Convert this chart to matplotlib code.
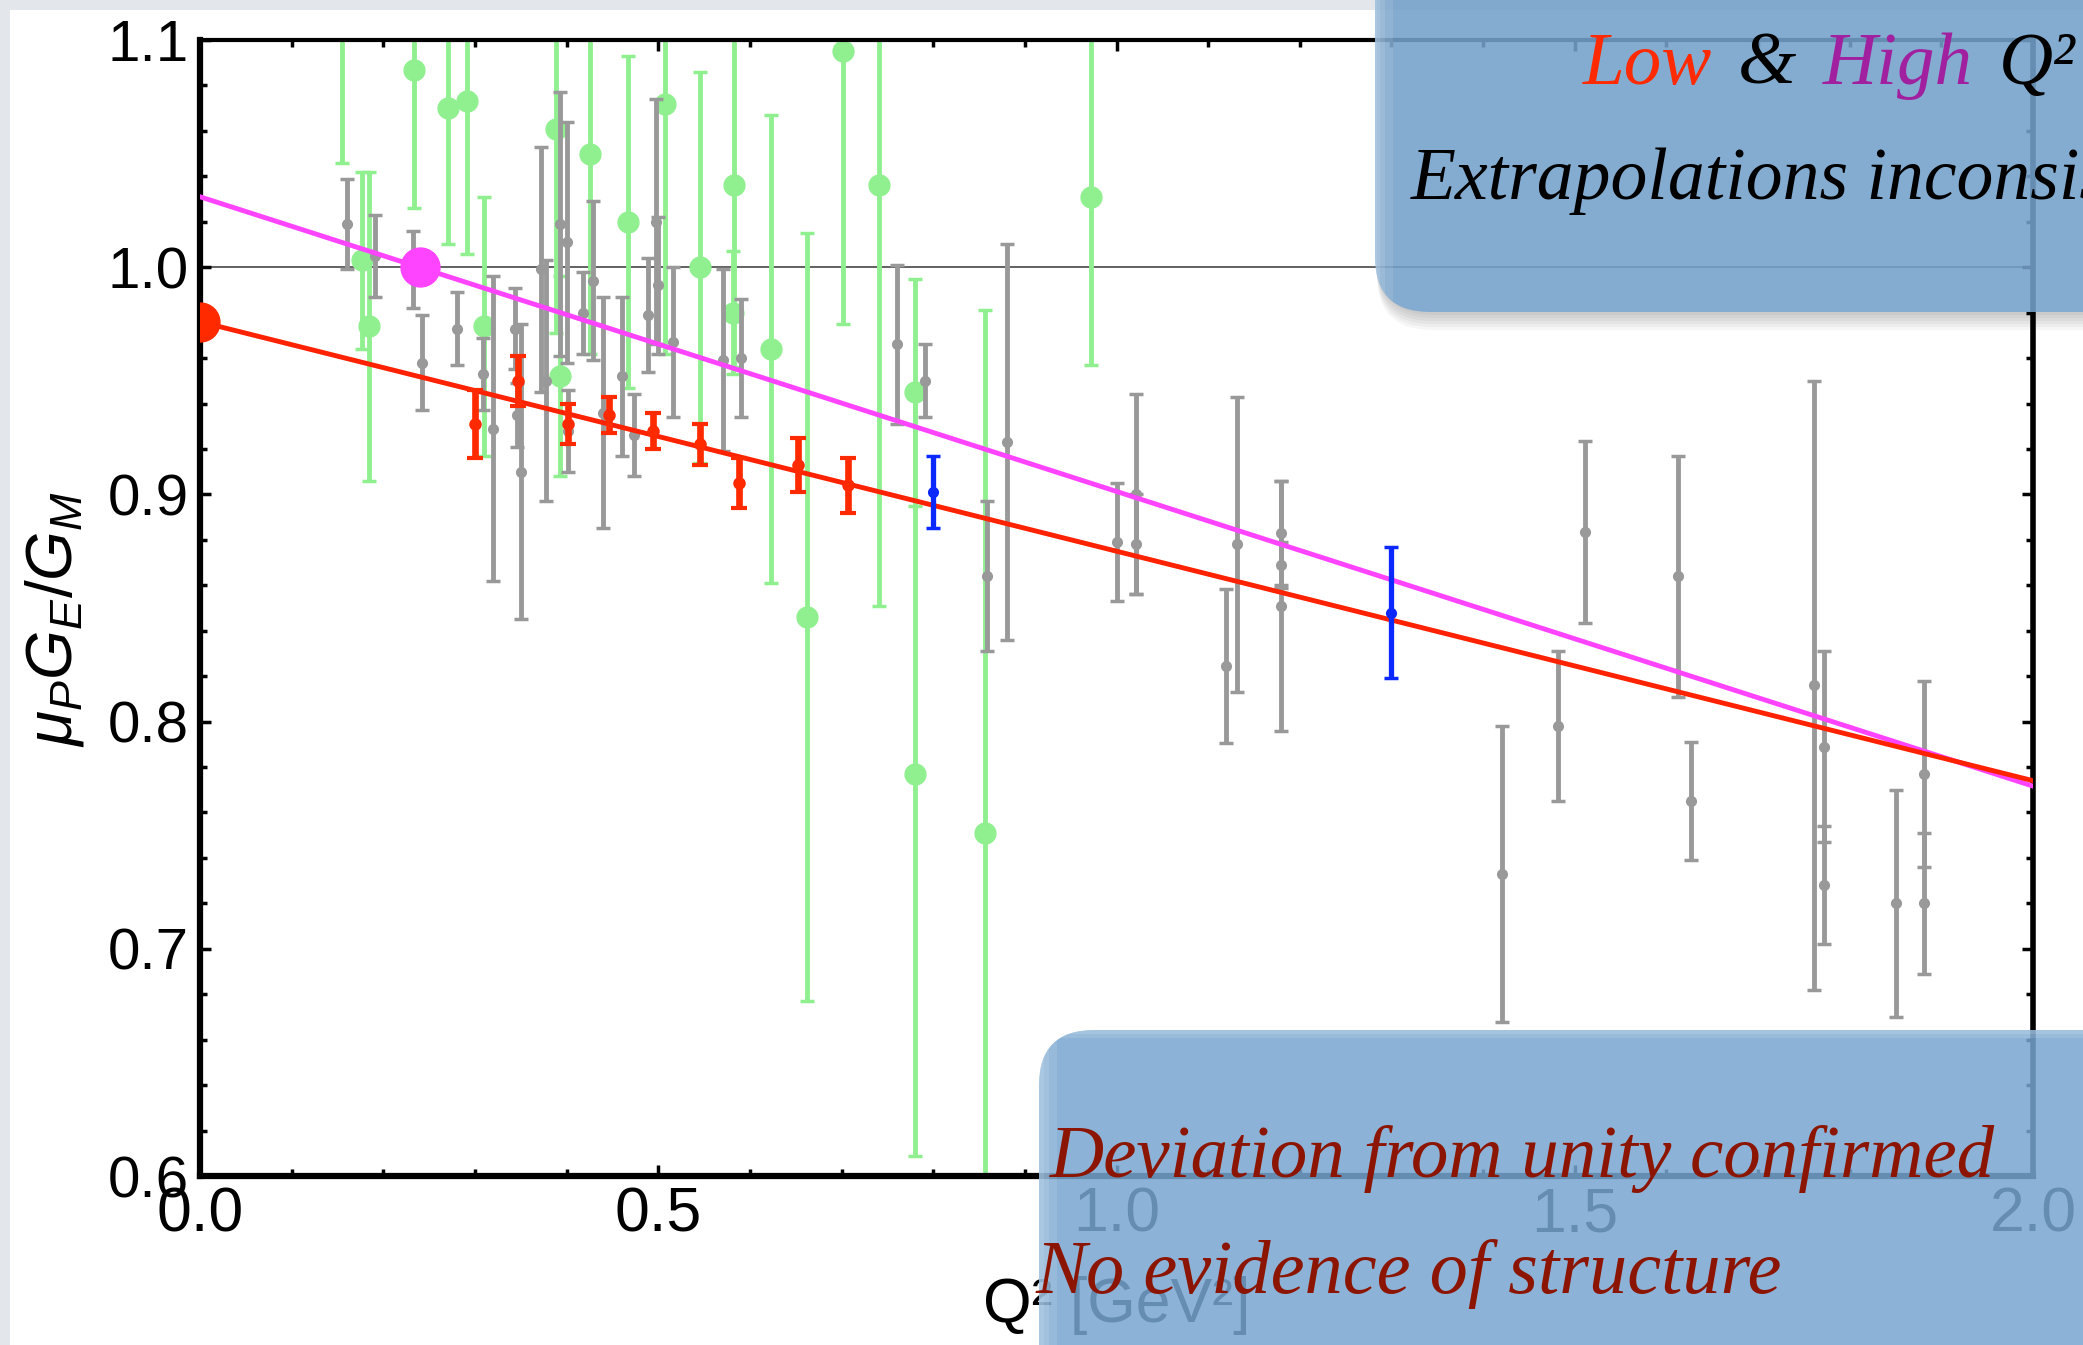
import matplotlib
matplotlib.use('Agg')
import matplotlib.pyplot as plt
import numpy as np
from matplotlib.patches import FancyBboxPatch, Rectangle
from matplotlib.transforms import IdentityTransform
from matplotlib.ticker import MultipleLocator, FormatStrFormatter

plt.rcParams['font.family'] = ['Liberation Sans', 'DejaVu Sans']
plt.rcParams['mathtext.fontset'] = 'custom'
plt.rcParams['mathtext.it'] = 'Liberation Sans:italic'
plt.rcParams['mathtext.rm'] = 'Liberation Sans'

# ---------------- data ----------------
gray_q = [0.160, 0.191, 0.232, 0.242, 0.280, 0.309, 0.320, 0.344, 0.346, 0.350,
          0.372, 0.378, 0.393, 0.400, 0.402, 0.418, 0.429, 0.440, 0.460, 0.4735,
          0.489, 0.498, 0.500, 0.516, 0.5705, 0.590, 0.760, 0.791, 0.859, 0.880,
          1.000, 1.021, 1.021, 1.120, 1.131, 1.180, 1.180, 1.180, 1.421, 1.482,
          1.511, 1.613, 1.627, 1.761, 1.772, 1.772, 1.850, 1.881, 1.881]
gray_r = [1.019, 1.005, 0.999, 0.958, 0.973, 0.953, 0.929, 0.973, 0.935, 0.910,
          0.999, 0.950, 1.019, 1.011, 0.928, 0.980, 0.994, 0.936, 0.952, 0.926,
          0.979, 1.020, 0.992, 0.967, 0.959, 0.960, 0.966, 0.950, 0.864, 0.923,
          0.879, 0.878, 0.900, 0.8245, 0.878, 0.883, 0.869, 0.851, 0.733, 0.798,
          0.8835, 0.864, 0.765, 0.816, 0.789, 0.728, 0.720, 0.777, 0.720]
gray_err = [0.020, 0.018, 0.017, 0.021, 0.016, 0.016, 0.067, 0.018, 0.014, 0.065,
            0.054, 0.053, 0.058, 0.053, 0.018, 0.018, 0.035, 0.051, 0.035, 0.018,
            0.025, 0.054, 0.030, 0.033, 0.040, 0.026, 0.035, 0.016, 0.033, 0.087,
            0.026, 0.022, 0.044, 0.034, 0.065, 0.023, 0.010, 0.055, 0.065, 0.033,
            0.040, 0.053, 0.026, 0.134, 0.042, 0.026, 0.050, 0.041, 0.031]

green_q = [0.155, 0.177, 0.184, 0.234, 0.271, 0.291, 0.310, 0.388, 0.393, 0.425,
           0.467, 0.507, 0.546, 0.583, 0.582, 0.623, 0.662, 0.702, 0.741, 0.780,
           0.780, 0.857, 0.972]
green_r = [1.120, 1.003, 0.974, 1.087, 1.070, 1.073, 0.974, 1.061, 0.952, 1.050,
           1.020, 1.072, 1.000, 1.036, 0.980, 0.964, 0.846, 1.095, 1.036, 0.945,
           0.777, 0.751, 1.031]
green_err = [0.074, 0.039, 0.068, 0.061, 0.060, 0.067, 0.057, 0.090, 0.044, 0.088,
             0.073, 0.110, 0.086, 0.080, 0.027, 0.103, 0.169, 0.120, 0.185, 0.050,
             0.168, 0.230, 0.074]

red_q = [0.300, 0.347, 0.402, 0.446, 0.494, 0.546, 0.588, 0.653, 0.707]
red_r = [0.931, 0.950, 0.931, 0.935, 0.928, 0.922, 0.905, 0.913, 0.904]
red_err = [0.015, 0.011, 0.009, 0.008, 0.008, 0.009, 0.011, 0.012, 0.012]

blue_q = [0.800, 1.300]
blue_r = [0.901, 0.848]
blue_err = [0.016, 0.029]

# linear extrapolations: (intercept, slope)
low_fit = (0.976, -0.101)
high_fit = (1.031, -0.1297)
low_point = (0.0, 0.976)
high_point = (0.24, 1.000)

x_ticks = [0.0, 0.5, 1.0, 1.5, 2.0]
y_ticks = [0.6, 0.7, 0.8, 0.9, 1.0, 1.1]

# ---------------- figure ----------------
W, H = 2083, 1345
fig = plt.figure(figsize=(W / 100, H / 100), dpi=100)
fig.patch.set_facecolor('white')
ax = fig.add_axes([200 / W, 1 - 1176 / H, 1833 / W, 1136 / H])
ax.set_xlim(0, 2.0)
ax.set_ylim(0.6, 1.1)

ax.axhline(1.0, color='#555555', lw=1.3, zorder=1.5)

c_green = '#90f090'
c_gray = '#999999'
c_red = '#ff2a00'
c_blue = '#0a28ff'
c_mag = '#ff44ff'

ax.errorbar(green_q, green_r, yerr=green_err, fmt='o', color=c_green, ms=15,
            elinewidth=3.5, capsize=5, capthick=2.5, zorder=2)
ax.errorbar(gray_q, gray_r, yerr=gray_err, fmt='o', color=c_gray, ms=7,
            elinewidth=3.5, capsize=5, capthick=2.5, zorder=3)

xx = np.array(ax.get_xlim())
ax.plot(xx, high_fit[0] + high_fit[1] * xx, color=c_mag, lw=3.5, zorder=4)
ax.plot(xx, low_fit[0] + low_fit[1] * xx, color='#ff2200', lw=3.5, zorder=4)

ax.errorbar(red_q, red_r, yerr=red_err, fmt='o', color=c_red, ms=8,
            elinewidth=4.8, capsize=6, capthick=3, zorder=5)
ax.errorbar(blue_q, blue_r, yerr=blue_err, fmt='o', color=c_blue, ms=7,
            elinewidth=3.8, capsize=5, capthick=2.5, zorder=5)

ax.plot([low_point[0]], [low_point[1]], 'o', color=c_red, ms=28, zorder=6)
ax.plot([high_point[0]], [high_point[1]], 'o', color=c_mag, ms=28, zorder=6)

# axes styling
for side, lw in [('left', 4.5), ('bottom', 4.5), ('right', 4.0), ('top', 3.0)]:
    ax.spines[side].set_linewidth(lw)
    ax.spines[side].set_color('black')
ax.xaxis.set_major_locator(MultipleLocator(0.5))
ax.xaxis.set_minor_locator(MultipleLocator(0.1))
ax.yaxis.set_major_locator(MultipleLocator(0.1))
ax.yaxis.set_minor_locator(MultipleLocator(0.02))
ax.set_xticks(x_ticks)
ax.set_yticks(y_ticks)
ax.xaxis.set_major_formatter(FormatStrFormatter('%.1f'))
ax.yaxis.set_major_formatter(FormatStrFormatter('%.1f'))
ax.tick_params(which='both', direction='in', top=True, right=True, width=2.5)
ax.tick_params(which='major', length=8)
ax.tick_params(which='minor', length=5)
ax.tick_params(axis='x', labelsize=45, pad=7)
ax.tick_params(axis='y', labelsize=42, pad=8)

ax.set_xlabel('Q² [GeV²]', fontsize=45)
ax.xaxis.set_label_coords(0.5, -0.088)
ax.set_ylabel(r'$\mu_P G_E/G_M$', fontsize=46)
ax.yaxis.set_label_coords(-0.062, 0.49)

# ---------------- overlays ----------------
ident = IdentityTransform()
fig.add_artist(Rectangle((0, 0), 10, H, transform=ident, color='#e3e6eb', lw=0, zorder=1))
fig.add_artist(Rectangle((0, H - 10), W, 10, transform=ident, color='#e3e6eb', lw=0, zorder=1))

box_face = (0.47, 0.65, 0.82)


def add_box(x0, y0, w, h, shadow=True):
    if shadow:
        for k in range(1, 7):
            sh = FancyBboxPatch((x0 + 2, y0 - 3 * k), w, h,
                                boxstyle='round,pad=0,rounding_size=55',
                                transform=ident, facecolor='black', edgecolor='none',
                                alpha=0.035, zorder=1.1)
            fig.add_artist(sh)
    box = FancyBboxPatch((x0, y0), w, h, boxstyle='round,pad=0,rounding_size=55',
                         transform=ident, facecolor=box_face, edgecolor='none',
                         alpha=0.85, zorder=1.2)
    fig.add_artist(box)
    for wd in (5, 10, 18):
        strip = Rectangle((x0, y0), wd, h, transform=ident, facecolor='white',
                          edgecolor='none', alpha=0.10, zorder=1.3)
        strip.set_clip_path(box)
        fig.add_artist(strip)
    return box


box1 = add_box(1375, H - 312, 900, 500)
box2 = add_box(1039, -200, 1200, 200 + (H - 1030), shadow=False)
for wd in (4, 8):
    strip = Rectangle((1039, H - 1030 - wd), 1200, wd, transform=ident,
                      facecolor='white', edgecolor='none', alpha=0.12, zorder=1.3)
    strip.set_clip_path(box2)
    fig.add_artist(strip)

serif = dict(family=['Liberation Serif', 'DejaVu Serif'], style='italic')

renderer = fig.canvas.get_renderer()
parts = [('Low', c_red), ('&', 'black'), ('High', '#a020a0'), ('Q²', 'black')]
x = 1583
for s, c in parts:
    t = fig.text(x, H - 84, s, color=c, transform=ident, fontsize=54,
                 va='baseline', ha='left', zorder=3, **serif)
    x += t.get_window_extent(renderer).width + 26

fig.text(1411, H - 199, 'Extrapolations inconsistent', color='black', transform=ident,
         fontsize=53, va='baseline', ha='left', zorder=3, **serif)

dark_red = '#8b1500'
fig.text(1050, H - 1177, 'Deviation from unity confirmed', color=dark_red,
         transform=ident, fontsize=54, va='baseline', ha='left', zorder=3, **serif)
fig.text(1036, H - 1293, 'No evidence of structure', color=dark_red,
         transform=ident, fontsize=55, va='baseline', ha='left', zorder=3, **serif)

fig.savefig('out.png', dpi=100)
